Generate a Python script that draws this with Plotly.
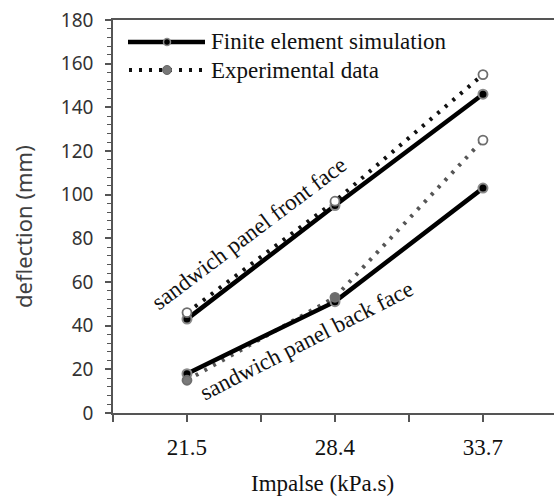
import plotly.graph_objects as go

# ---- data ----
impulse_labels = ["21.5", "28.4", "33.7"]
fe_front = [43, 95, 146]
exp_front = [46, 97, 155]
fe_back = [18, 51, 103]
exp_back = [15, 53, 125]
legend_names = ["Finite element simulation", "Experimental data"]
y_ticks = [0, 20, 40, 60, 80, 100, 120, 140, 160, 180]

xpos = list(range(len(impulse_labels)))
SERIF = "Liberation Serif, Times New Roman, serif"
SANS = "Noto Sans, sans-serif"
AX = "#555555"

fig = go.Figure()

# experimental dotted lines
fig.add_trace(go.Scatter(x=xpos, y=exp_front, mode="lines",
                         line=dict(color="#111111", width=4, dash="3px,7px"),
                         showlegend=False, hoverinfo="skip"))
fig.add_trace(go.Scatter(x=xpos, y=exp_back, mode="lines",
                         line=dict(color="#555555", width=4, dash="3px,7px"),
                         showlegend=False, hoverinfo="skip"))
# FE solid lines
for ys in (fe_front, fe_back):
    fig.add_trace(go.Scatter(x=xpos, y=ys, mode="lines+markers",
                             line=dict(color="black", width=4.5),
                             marker=dict(size=9, color="black",
                                         line=dict(color="#8a8a8a", width=2)),
                             showlegend=False))
# experimental markers
fig.add_trace(go.Scatter(x=xpos, y=exp_front, mode="markers",
                         marker=dict(size=9, color="white",
                                     line=dict(color="#6e6e6e", width=1.8)),
                         showlegend=False))
fig.add_trace(go.Scatter(x=xpos, y=exp_back, mode="markers",
                         marker=dict(size=9, color=["#7a7a7a", "#6a6a6a", "white"],
                                     line=dict(color="#6e6e6e", width=1.8)),
                         showlegend=False))

# custom legend (paper coordinates)
def px_x(p):
    return (p - 113) / 441.0

def px_y(p):
    return (413 - p) / 393.0

shapes = [
    dict(type="line", xref="paper", yref="paper", x0=px_x(128), x1=px_x(205),
         y0=px_y(42), y1=px_y(42), line=dict(color="black", width=4.5)),
    dict(type="circle", xref="paper", yref="paper", xsizemode="pixel", ysizemode="pixel",
         xanchor=px_x(167), yanchor=px_y(42), x0=-3.5, x1=3.5, y0=-3.5, y1=3.5,
         fillcolor="black", line=dict(color="#8a8a8a", width=1.5)),
    dict(type="line", xref="paper", yref="paper", x0=px_x(129), x1=px_x(202),
         y0=px_y(70), y1=px_y(70), line=dict(color="#111111", width=4, dash="3px,7px")),
    dict(type="circle", xref="paper", yref="paper", xsizemode="pixel", ysizemode="pixel",
         xanchor=px_x(167), yanchor=px_y(70), x0=-4.5, x1=4.5, y0=-4.5, y1=4.5,
         fillcolor="#777777", line=dict(color="#666666", width=1)),
]

annotations = [
    dict(text=legend_names[0], xref="paper", yref="paper", x=px_x(209), y=px_y(42),
         xanchor="left", yanchor="middle", showarrow=False,
         font=dict(family=SERIF, size=23, color="#111111")),
    dict(text=legend_names[1], xref="paper", yref="paper", x=px_x(209), y=px_y(70),
         xanchor="left", yanchor="middle", showarrow=False,
         font=dict(family=SERIF, size=23, color="#111111")),
    dict(text="sandwich panel front face", x=0.42, y=82, xref="x", yref="y",
         textangle=-37, showarrow=False,
         font=dict(family=SERIF, size=23, color="#111111")),
    dict(text="sandwich panel back face", x=0.81, y=33, xref="x", yref="y",
         textangle=-27, showarrow=False,
         font=dict(family=SERIF, size=23, color="#111111")),
    dict(text="Impalse (kPa.s)", xref="paper", yref="paper", x=px_x(322), y=px_y(484),
         xanchor="center", yanchor="middle", showarrow=False,
         font=dict(family=SERIF, size=23, color="#111111")),
    dict(text="deflection (mm)", xref="paper", yref="paper", x=px_x(23), y=px_y(227),
         xanchor="center", yanchor="middle", textangle=-90, showarrow=False,
         font=dict(family=SANS, size=22, color="#404040")),
]

fig.update_layout(
    width=554, height=496,
    margin=dict(l=113, r=0, t=20, b=83),
    plot_bgcolor="white", paper_bgcolor="white",
    showlegend=False,
    shapes=shapes, annotations=annotations,
    xaxis=dict(range=[-0.5, 2.48], tickmode="array",
               tickvals=[-0.5, 0, 0.5, 1, 1.5, 2],
               ticktext=["", impulse_labels[0], "", impulse_labels[1], "", impulse_labels[2]],
               showline=True, linecolor=AX, linewidth=1.5, mirror=True,
               ticks="outside", ticklen=7, tickcolor=AX, tickwidth=1.5,
               showgrid=False, zeroline=False, ticklabelstandoff=6,
               tickfont=dict(family=SERIF, size=23, color="#111111")),
    yaxis=dict(range=[0, 180], tickmode="array", tickvals=y_ticks,
               showline=True, linecolor=AX, linewidth=1.5,
               ticks="outside", ticklen=6, tickcolor=AX, tickwidth=1.5,
               minor=dict(dtick=4, ticks="outside", ticklen=4, tickcolor=AX, tickwidth=1),
               showgrid=False, zeroline=False, ticklabelstandoff=8,
               tickfont=dict(family=SANS, size=19, color="#333333")),
)

fig.write_html("out.html")
